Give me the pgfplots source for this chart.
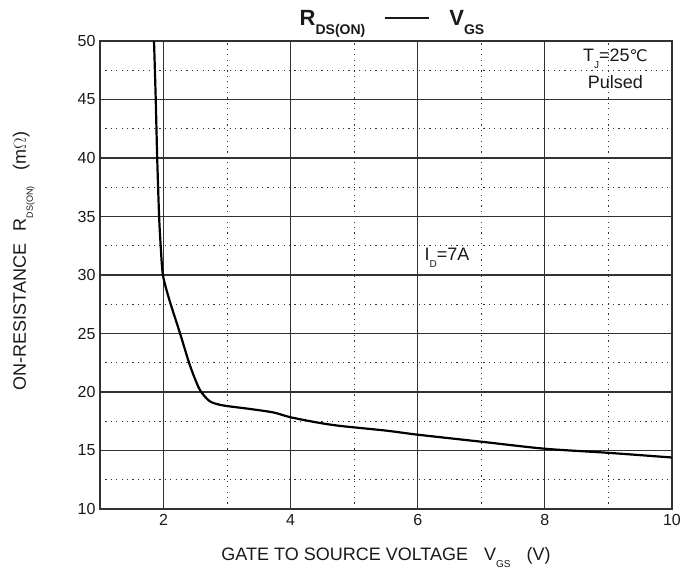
\documentclass[border=0pt]{standalone}
\usepackage{pgfplots}
\pgfplotsset{compat=1.18}
\usepackage{fontspec}
\setmainfont{Liberation Sans}
\newfontfamily\dejavu{DejaVu Sans}
\definecolor{txt}{RGB}{25,25,25}
\definecolor{gridc}{RGB}{50,50,50}
\newcommand\sub[2][9]{\raisebox{-0.75ex}{\fontsize{#1}{#1}\selectfont #2}}
\begin{document}
\begin{tikzpicture}
\path[use as bounding box] (0,0) rectangle (697pt,572pt);
\begin{axis}[
  at={(100pt,63pt)}, anchor=south west,
  scale only axis, width=572pt, height=468pt,
  xmin=1, xmax=10, ymin=10, ymax=50,
  xtick={2,4,6,8,10}, minor xtick={3,5,7,9},
  ytick={10,15,...,50}, minor ytick={12.5,17.5,...,47.5},
  major tick length=0pt, minor tick length=0pt,
  grid=both,
  major grid style={solid, gridc, line width=1.05pt},
  minor grid style={gridc, line width=1.2pt, dash pattern=on 1.2pt off 4.2pt},
  axis line style={gridc, line width=1.1pt},
  tick label style={font=\fontsize{16}{18}\selectfont, text=txt},
  /pgf/number format/assume math mode=true,
  xticklabel style={yshift=-2pt},
  yticklabel style={xshift=-1pt},
  xlabel={\fontsize{18}{20}\selectfont GATE TO SOURCE VOLTAGE\hspace{16pt}V\sub[10]{GS}\hspace{16pt}(V)},
  xlabel style={text=txt, yshift=-15pt},
  ylabel={\fontsize{18}{20}\selectfont ON-RESISTANCE\hspace{12pt}R\sub[9]{DS(ON)}\hspace{16pt}(m$\Omega$)},
  ylabel style={text=txt, yshift=36pt, xshift=14pt},
  title={\fontsize{22}{24}\selectfont\bfseries R\sub[14]{DS(ON)}\hspace{20pt}\rule[0.3em]{44pt}{2.2pt}\hspace{20pt}V\sub[14]{GS}},
  title style={text=txt, yshift=-6pt, xshift=6pt},
  clip=true,
]
\addplot[black, line width=2.2pt, smooth, tension=0.45] coordinates {
(1.85,50) (1.877,45) (1.90,40) (1.93,35) (1.955,32.5) (1.99,30) (2.09,27.9) (2.26,25)
(2.42,22.2) (2.57,20.2) (2.73,19.2) (2.94,18.85) (3.36,18.55) (3.73,18.25)
(3.99,17.85) (4.41,17.4) (4.78,17.1) (5.5,16.7) (6,16.35) (7,15.75) (8,15.15)
(9,14.8) (10,14.4)
};
\node[text=txt, font=\fontsize{18}{20}\selectfont] at (axis cs:9.11,48.5) {T\sub[10]{J}=25{\dejavu\fontsize{16}{18}\selectfont ℃}};
\node[text=txt, font=\fontsize{18}{20}\selectfont] at (axis cs:9.11,46.5) {Pulsed};
\node[text=txt, font=\fontsize{18}{20}\selectfont] at (axis cs:6.46,31.5) {I\sub[10]{D}=7A};
\end{axis}
\end{tikzpicture}
\end{document}
